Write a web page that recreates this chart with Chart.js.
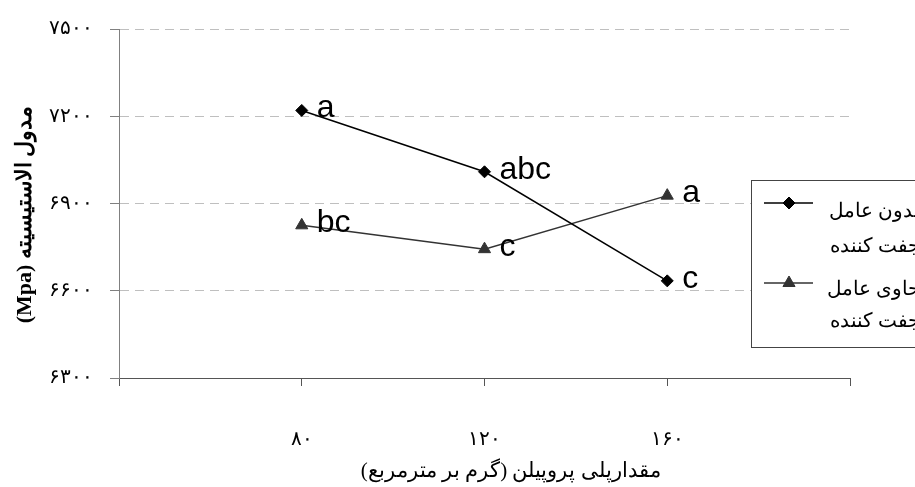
<!DOCTYPE html>
<html>
<head>
<meta charset="utf-8">
<script src="https://cdn.jsdelivr.net/npm/chart.js@4.4.1/dist/chart.umd.min.js"></script>
<style>
  html, body { margin: 0; padding: 0; background: #fff; overflow: hidden; }
  #wrap { width: 915px; height: 487px; }
</style>
</head>
<body>
<div id="wrap"><canvas id="chart" width="915" height="487"></canvas></div>
<script>
// داده‌های نمودار
const xValues = [80, 120, 160];
const xTickValues = [40, 80, 120, 160, 200];
const yTickValues = [6300, 6600, 6900, 7200, 7500];
const withoutAgent = [7220, 7009, 6634];
const withAgent = [6825, 6743, 6927];
const withoutLetters = ['a', 'abc', 'c'];
const withLetters = ['bc', 'c', 'a'];
const seriesNames = [['بدون عامل', 'جفت کننده'], ['حاوی عامل', 'جفت کننده']];
const yTitle = 'مدول الاستیسیته (Mpa)';
const xTitle = 'مقدارپلی پروپیلن (گرم بر مترمربع)';

const serif = '"Liberation Serif", "Times New Roman", "DejaVu Serif", serif';

// ارقام فارسی
function faDigits(n) {
    return String(n).replace(/\d/g, d => '۰۱۲۳۴۵۶۷۸۹'[d]);
}

// حروف معنی‌داری کنار نقاط
const letterLabels = {
    id: 'letterLabels',
    afterDatasetsDraw(chart) {
        const ctx = chart.ctx;
        [withoutLetters, withLetters].forEach((letters, di) => {
            const meta = chart.getDatasetMeta(di);
            ctx.save();
            ctx.font = '32px "Liberation Sans", Arial, sans-serif';
            ctx.fillStyle = '#000';
            ctx.textAlign = 'left';
            ctx.textBaseline = 'middle';
            meta.data.forEach((pt, i) => {
                ctx.fillText(letters[i], pt.x + 15, pt.y - 2);
            });
            ctx.restore();
        });
    }
};

// راهنمای جعبه‌ای سمت راست
const boxLegend = {
    id: 'boxLegend',
    afterDraw(chart) {
        const ctx = chart.ctx;
        const left = 751, top = 180, bottom = 347, right = 980;
        const rows = [
            { y: 203, text: [212, 247] },
            { y: 283, text: [290, 322] }
        ];
        ctx.save();
        ctx.fillStyle = '#fff';
        ctx.fillRect(left, top, right - left, bottom - top);
        ctx.strokeStyle = '#444';
        ctx.lineWidth = 1;
        ctx.strokeRect(left + 0.5, top + 0.5, right - left, bottom - top);

        chart.data.datasets.forEach((ds, i) => {
            const row = rows[i];
            ctx.strokeStyle = ds.borderColor;
            ctx.lineWidth = ds.borderWidth;
            ctx.beginPath();
            ctx.moveTo(764, row.y);
            ctx.lineTo(813, row.y);
            ctx.stroke();

            ctx.fillStyle = ds.pointBackgroundColor;
            ctx.strokeStyle = ds.pointBorderColor;
            ctx.lineWidth = 1;
            Chart.helpers.drawPoint(ctx, {
                pointStyle: ds.pointStyle,
                radius: ds.pointRadius,
                rotation: 0,
                borderWidth: 1
            }, 789, row.y);

            ctx.fillStyle = '#000';
            ctx.font = '20px ' + serif;
            ctx.textAlign = 'right';
            ctx.textBaseline = 'middle';
            seriesNames[i].forEach((line, li) => {
                ctx.fillText(line, 920, row.text[li]);
            });
        });
        ctx.restore();
    }
};

const ctx = document.getElementById('chart').getContext('2d');
new Chart(ctx, {
    type: 'line',
    data: {
        datasets: [
            {
                label: seriesNames[0].join(' '),
                data: xValues.map((x, i) => ({ x: x, y: withoutAgent[i] })),
                borderColor: '#000',
                borderWidth: 1.5,
                pointStyle: 'rectRot',
                pointRadius: 6,
                pointBackgroundColor: '#000',
                pointBorderColor: '#000',
                pointBorderWidth: 1,
                tension: 0
            },
            {
                label: seriesNames[1].join(' '),
                data: xValues.map((x, i) => ({ x: x, y: withAgent[i] })),
                borderColor: '#333',
                borderWidth: 1.5,
                pointStyle: 'triangle',
                pointRadius: 7,
                pointBackgroundColor: '#333',
                pointBorderColor: '#333',
                pointBorderWidth: 1,
                tension: 0
            }
        ]
    },
    options: {
        responsive: false,
        animation: false,
        layout: { padding: { top: 26, right: 65, left: 0, bottom: 0 } },
        plugins: {
            legend: { display: false },
            tooltip: { enabled: false }
        },
        scales: {
            x: {
                type: 'linear',
                min: 40,
                max: 200,
                afterBuildTicks: s => { s.ticks = xTickValues.map(v => ({ value: v })); },
                afterFit: s => { s.height = 109; },
                ticks: {
                    callback: v => xValues.includes(v) ? faDigits(v) : '',
                    padding: 42,
                    maxRotation: 0,
                    autoSkip: false,
                    color: '#000',
                    font: { family: serif, size: 20 }
                },
                grid: {
                    drawOnChartArea: false,
                    drawTicks: true,
                    tickLength: 8,
                    tickColor: '#555'
                },
                border: { color: '#555', width: 1 },
                title: {
                    display: true,
                    // فاصله‌های انتهایی (با RLM) عنوان را کمی به راست می‌برند
                    text: '\u202B' + xTitle + '\u2003\u2003\u2002\u200F\u202C',
                    color: '#000',
                    font: { family: serif, size: 21 },
                    padding: 3
                }
            },
            y: {
                min: 6300,
                max: 7500,
                afterBuildTicks: s => { s.ticks = yTickValues.map(v => ({ value: v })); },
                afterFit: s => { s.width = 119; },
                ticks: {
                    callback: v => faDigits(v),
                    padding: 17,
                    color: '#000',
                    font: { family: serif, size: 20 }
                },
                grid: {
                    color: '#bfbfbf',
                    tickColor: '#808080',
                    tickLength: 9,
                    tickBorderDash: []
                },
                border: { color: '#808080', width: 1, dash: [9, 6] },
                title: {
                    display: true,
                    text: '\u202B\u2003' + yTitle + '\u202C',
                    color: '#000',
                    font: { family: serif, size: 22, weight: 'bold' },
                    padding: 12
                }
            }
        }
    },
    plugins: [letterLabels, boxLegend]
});
</script>
</body>
</html>
